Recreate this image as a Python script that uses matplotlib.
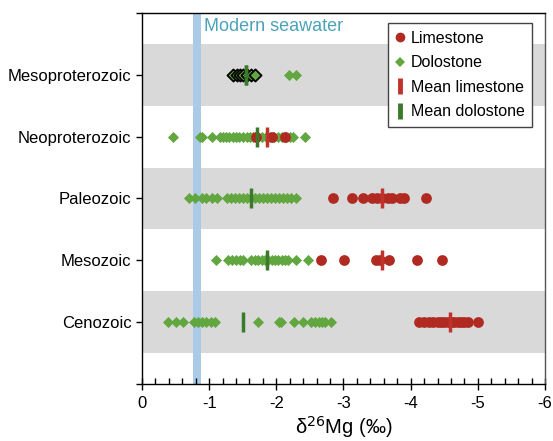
import numpy as np
import matplotlib.pyplot as plt
from matplotlib.lines import Line2D

plt.rcParams['font.family'] = ['Liberation Sans', 'DejaVu Sans']
plt.rcParams['axes.unicode_minus'] = False

# eras, bottom to top
eras = ["Cenozoic", "Mesozoic", "Paleozoic", "Neoproterozoic", "Mesoproterozoic"]

# d26Mg (permil) of individual samples
limestone = {
    "Cenozoic": [-4.13, -4.20, -4.27, -4.33, -4.40, -4.45, -4.50, -4.55, -4.60,
                 -4.65, -4.70, -4.75, -4.80, -4.86, -5.00],
    "Mesozoic": [-2.67, -3.01, -3.49, -3.55, -3.68, -4.09, -4.46],
    "Paleozoic": [-2.85, -3.12, -3.29, -3.42, -3.50, -3.58, -3.67, -3.72,
                  -3.84, -3.90, -4.23],
    "Neoproterozoic": [-1.70, -1.94, -2.13],
    "Mesoproterozoic": [],
}
dolostone = {
    "Cenozoic": [-0.38, -0.51, -0.61, -0.78, -0.84, -0.90, -0.96, -1.02, -1.09,
                 -1.72, -2.04, -2.07, -2.26, -2.39, -2.51, -2.58, -2.64, -2.68,
                 -2.72, -2.81],
    "Mesozoic": [-1.10, -1.28, -1.34, -1.40, -1.46, -1.51, -1.63, -1.68, -1.73,
                 -1.78, -1.83, -1.88, -1.93, -1.98, -2.03, -2.08, -2.13, -2.17,
                 -2.29, -2.47],
    "Paleozoic": [-0.70, -0.79, -0.89, -0.96, -1.04, -1.12, -1.26, -1.32,
                  -1.38, -1.44, -1.50, -1.56, -1.62, -1.68, -1.74, -1.80, -1.86,
                  -1.92, -1.98, -2.04, -2.10, -2.16, -2.22, -2.29],
    "Neoproterozoic": [-0.46, -0.86, -0.89, -1.04, -1.16, -1.20, -1.25, -1.30,
                       -1.35, -1.40, -1.45, -1.50, -1.56, -1.61, -1.66, -1.72,
                       -1.78, -1.84, -1.90, -1.96, -2.02, -2.08, -2.14, -2.20,
                       -2.25, -2.43],
    "Mesoproterozoic": [-2.19, -2.29],
}
# Mesoproterozoic samples outlined in black
dolostone_outlined = [-1.36, -1.41, -1.46, -1.51, -1.56, -1.62, -1.68]

mean_limestone = {"Cenozoic": -4.58, "Mesozoic": -3.57, "Paleozoic": -3.58,
                  "Neoproterozoic": -1.86}
mean_dolostone = {"Cenozoic": -1.51, "Mesozoic": -1.86, "Paleozoic": -1.63,
                  "Neoproterozoic": -1.71, "Mesoproterozoic": -1.55}

seawater = (-0.76, -0.88)

red = "#b02a22"
green = "#62a640"
dkgreen = "#3b7a2a"
mean_red = "#c0332c"

fig = plt.figure(figsize=(5.53, 4.41), dpi=100)
ax = fig.add_axes([0.2568, 0.1293, 0.7287, 0.8412])

# alternating grey bands
for i in range(len(eras)):
    if i % 2 == 0:
        ax.axhspan(i + 0.5, i + 1.5, color="#d9d9d9", lw=0, zorder=0)

ax.axvspan(seawater[0], seawater[1], color="#a9cbe8", lw=0, zorder=1)
ax.text(-0.92, 5.92, "Modern seawater", color="#4aa3b8", fontsize=13,
        va="top", ha="left", zorder=2)

for i, era in enumerate(eras):
    y = i + 1
    d = dolostone[era]
    ax.scatter(d, [y] * len(d), marker="D", s=32, color=green, lw=0, zorder=3)
    l = limestone[era]
    ax.scatter(l, [y] * len(l), marker="o", s=60, color=red, lw=0, zorder=4)
    if era in mean_limestone:
        ax.plot(mean_limestone[era], y, marker="|", ms=15, mew=2.5,
                color=mean_red, zorder=5)
    ax.plot(mean_dolostone[era], y, marker="|", ms=15, mew=2.5,
            color=dkgreen, zorder=5)

ax.scatter(dolostone_outlined, [5] * len(dolostone_outlined), marker="D", s=38,
           color=green, edgecolor="black", lw=1.3, zorder=4)
ax.plot(mean_dolostone["Mesoproterozoic"], 5, marker="|", ms=15, mew=2.5,
        color=dkgreen, zorder=6)

ax.set_xlim(0, -6)
ax.set_ylim(0, 6)
ax.set_yticks(range(0, 7))
ax.set_yticklabels([""] + eras + [""], fontsize=12)
ax.set_xticks(range(0, -7, -1))
ax.set_xticklabels([str(v) for v in range(0, -7, -1)], fontsize=12)
ax.set_xticks(np.arange(0, -6.01, -0.2), minor=True)
ax.tick_params(axis="x", which="major", direction="inout", length=8, width=1,
               pad=5)
ax.tick_params(axis="x", which="minor", direction="in", length=4, width=1)
ax.tick_params(axis="y", direction="out", length=4, width=1)
ax.spines["right"].set_color("#555555")
for s in ax.spines.values():
    s.set_linewidth(1)

ax.set_xlabel(r"δ$^{26}$Mg (‰)", fontsize=14.5, labelpad=2)

handles = [
    Line2D([], [], ls="", marker="o", ms=7, color=red, mew=0),
    Line2D([], [], ls="", marker="D", ms=5, color=green, mew=0),
    Line2D([], [], ls="", marker="|", ms=11, mew=3.5, color=mean_red),
    Line2D([], [], ls="", marker="|", ms=11, mew=3.5, color=dkgreen),
]
leg = ax.legend(handles, ["Limestone", "Dolostone", "Mean limestone",
                          "Mean dolostone"],
                loc="upper right", bbox_to_anchor=(0.968, 0.972),
                fontsize=11.5, frameon=True, fancybox=False, framealpha=1,
                edgecolor="#444444", handlelength=0.6, handletextpad=0.4,
                borderpad=0.45, labelspacing=0.6, borderaxespad=0)
leg.get_frame().set_linewidth(1)

fig.savefig("out.png", dpi=100)
